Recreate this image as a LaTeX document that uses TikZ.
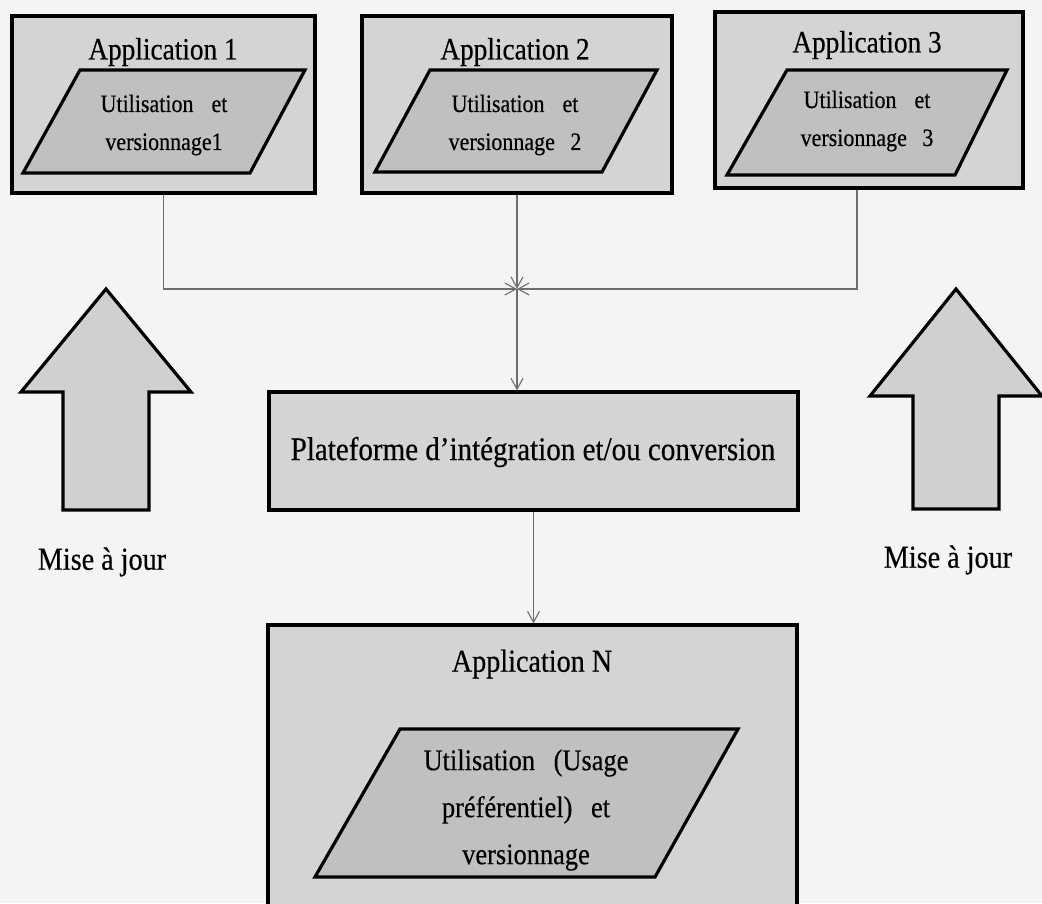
\documentclass[tikz,border=0pt]{standalone}
\usepackage{fontspec}
\setmainfont[FakeStretch=0.88,FakeBold=0.4]{Liberation Serif}
\usetikzlibrary{arrows.meta}

\definecolor{paper}{RGB}{244,244,244}
\definecolor{boxfill}{RGB}{212,212,212}
\definecolor{parfill}{RGB}{192,192,192}
\definecolor{arrowfill}{RGB}{208,208,208}
\definecolor{linkgray}{RGB}{110,110,110}

\tikzset{
  appbox/.style={draw=black, fill=boxfill, line width=3.2pt, inner sep=0pt},
  partile/.style={draw=black, fill=parfill, line width=3.2pt, line join=miter},
  bigarrow/.style={draw=black, fill=arrowfill, line width=3.2pt, line join=miter},
  title/.style={font=\fontsize{31}{36}\selectfont, inner sep=0pt},
  intext/.style={font=\fontsize{25}{38}\selectfont, align=center, inner sep=0pt},
  bigtext/.style={font=\fontsize{30}{47}\selectfont, align=center, inner sep=0pt},
  lbl/.style={font=\fontsize{32}{36}\selectfont, inner sep=0pt},
  conn/.style={draw=linkgray, line width=1.1pt,
    -{Straight Barb[length=11pt,width=12pt,line width=1.1pt]}}
}

\begin{document}
\begin{tikzpicture}[x=1pt,y=-1pt]
\useasboundingbox (0,0) rectangle (1042,903);
\clip (0,0) rectangle (1042,903);
\fill[paper] (0,0) rectangle (1042,903);

% application boxes on top
\node[appbox, minimum width=303pt, minimum height=177pt] (app1) at (163.5,104.5) {};
\node[appbox, minimum width=310pt, minimum height=177pt] (app2) at (517,104.5) {};
\node[appbox, minimum width=308pt, minimum height=176pt] (app3) at (869,100) {};

\node[title] (app1t) at (163,52) {Application 1};
\node[title] (app2t) at (515,52) {Application 2};
\node[title] (app3t) at (867,45) {Application 3};

% usage / versioning tiles
\filldraw[partile] (80,70) -- (305,70) -- (250,173) -- (23,173) -- cycle;
\filldraw[partile] (430,70) -- (657,70) -- (602,172) -- (375,172) -- cycle;
\filldraw[partile] (787,70) -- (1007,70) -- (955,175) -- (727,175) -- cycle;

\node[intext] (use1) at (164,125) {Utilisation\hspace{0.5em} et\\versionnage1};
\node[intext] (use2) at (515,125) {Utilisation\hspace{0.5em} et\\versionnage\hspace{0.4em} 2};
\node[intext] (use3) at (867,121) {Utilisation\hspace{0.5em} et\\versionnage\hspace{0.4em} 3};

% integration platform
\node[appbox, minimum width=529pt, minimum height=118pt] (plat) at (533.5,451) {};
\node[font=\fontsize{33}{40}\selectfont, inner sep=0pt] (platt) at (533,452)
  {Plateforme d’intégration et/ou conversion};

% target application
\node[appbox, minimum width=529pt, minimum height=320pt] (appN) at (532.5,785) {};
\node[title, font=\fontsize{32}{38}\selectfont] (appNt) at (532,664) {Application N};
\filldraw[partile] (400,729) -- (738,729) -- (655,877) -- (315,877) -- cycle;
\node[bigtext] (useN) at (526,810)
  {Utilisation\hspace{0.4em} (Usage\\préférentiel)\hspace{0.4em} et\\versionnage};

% junction of the three flows
\coordinate (j) at (517,289);
\coordinate (jr) at (857,289);

\draw[conn] (app1.south) |- (j);
\draw[conn] (app2.south) -- (j);
\draw[conn] (jr |- app3.south) |- (j);
\draw[conn] (j) -- (j |- plat.north);
\draw[conn] (plat.south) -- (plat.south |- appN.north);

% update arrows
\filldraw[bigarrow] (106,289) -- (191,392) -- (149,392) -- (149,510)
  -- (63,510) -- (63,392) -- (21,392) -- cycle;
\filldraw[bigarrow] (956,289) -- (1042,396) -- (999,396) -- (999,509)
  -- (913,509) -- (913,396) -- (870,396) -- cycle;

\node[lbl] (updl) at (102,562) {Mise à jour};
\node[lbl] (updr) at (948,560) {Mise à jour};
\end{tikzpicture}
\end{document}
